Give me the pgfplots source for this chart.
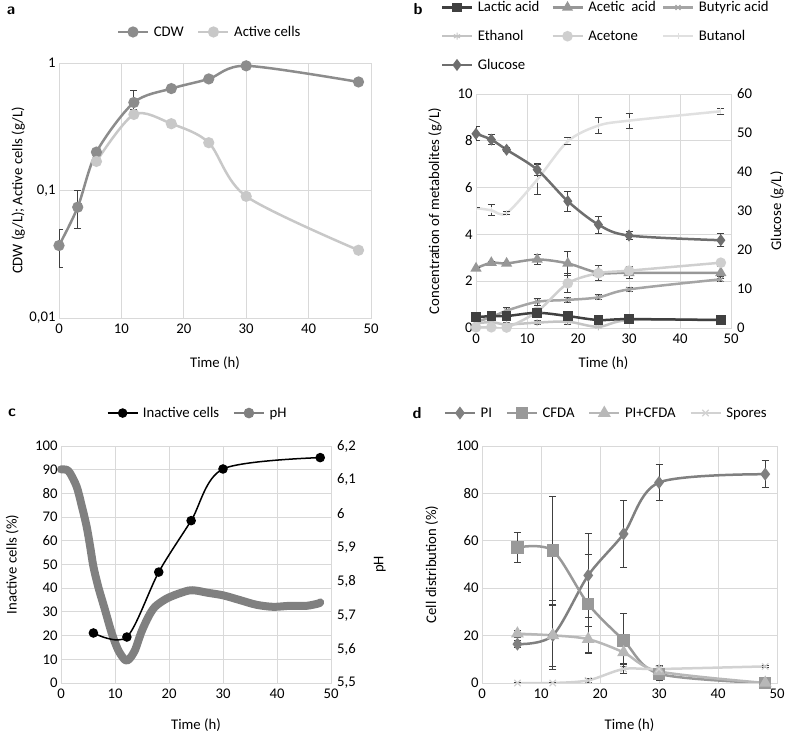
\documentclass[border=0pt]{standalone}
\usepackage{fontspec}
\setmainfont{Carlito}
\usepackage{pgfplots}
\pgfplotsset{compat=1.18}
\usetikzlibrary{plotmarks}
\definecolor{gridc}{HTML}{D9D9D9}
\definecolor{ebc}{HTML}{404040}
\definecolor{cdw}{HTML}{8C8C8C}
\definecolor{act}{HTML}{C8C8C8}
\definecolor{lac}{HTML}{404040}
\definecolor{ace}{HTML}{979797}
\definecolor{but}{HTML}{A5A5A5}
\definecolor{eth}{HTML}{C4C4C4}
\definecolor{acn}{HTML}{CFCFCF}
\definecolor{bol}{HTML}{E0E0E0}
\definecolor{glu}{HTML}{6E6E6E}
\definecolor{phc}{HTML}{808080}
\definecolor{pic}{HTML}{808080}
\definecolor{cfc}{HTML}{999999}
\definecolor{ppc}{HTML}{B8B8B8}
\definecolor{spc}{HTML}{D2D2D2}
\newcommand\fs{\fontsize{14.8}{17.5}\selectfont}
\pgfplotsset{
  base/.style={scale only axis, set layers, xmin=0, xmax=50, xtick={0,10,...,50},
    grid=major, grid style={draw=gridc, line width=0.9bp},
    axis line style={draw=gridc, line width=0.9bp},
    major tick length=0pt, minor tick length=0pt,
    tick label style={font=\fs, text=black},
    xticklabel style={yshift=-4bp, inner sep=2bp},
    label style={font=\fs},
    /pgf/number format/assume math mode=true,
    legend style={font=\fs, draw=none, fill=none, inner sep=0pt, nodes={inner sep=1.5bp},
      /tikz/every odd column/.append style={column sep=3bp},
      /tikz/every even column/.append style={column sep=12bp}},
    legend image code/.code={\draw[mark repeat=2,mark phase=2] plot coordinates {(0bp,0bp)(15bp,0bp)(30bp,0bp)};},
  },
  rightax/.style={base, axis y line*=right, axis x line=none, grid=none,
    yticklabel style={inner sep=1bp, xshift=5bp}},
  eb/.style={error bars/.cd, y dir=both, y explicit,
    error bar style={draw=ebc, line width=1bp, solid},
    error mark options={draw=ebc, line width=1bp, rotate=90, mark size=3.5bp}},
}
\begin{document}
\begin{tikzpicture}[x=1bp,y=1bp]
\node[font=\sffamily\bfseries\fontsize{16}{18}\selectfont] at (11,724) {a};
\node[font=\sffamily\bfseries\fontsize{16}{18}\selectfont] at (418,726) {b};
\node[font=\sffamily\bfseries\fontsize{16}{18}\selectfont] at (12,322) {c};
\node[font=\sffamily\bfseries\fontsize{16}{18}\selectfont] at (417,322) {d};

% ---------------- panel a
\begin{axis}[base, at={(59bp,417bp)}, anchor=south west, width=312bp, height=255bp,
  ymode=log, ymin=0.01, ymax=1, ytick={0.01,0.1,1}, yticklabels={{0,01},{0,1},{1}},
  xlabel={Time (h)}, ylabel={CDW (g/L); Active cells (g/L)},
  xlabel style={at={(axis description cs:0.5,-0.176)}, anchor=center},
  ylabel style={at={(axis description cs:-0.131,0.5)}, anchor=center},
  legend columns=2,
  legend style={at={(axis description cs:0.482,1.1216)}, anchor=center}]
\addplot[cdw, line width=2.5bp, smooth, mark=*, mark size=4.3bp, mark options={fill=cdw, draw=cdw}, eb]
 coordinates {(0,0.037) += (0,0.012) -= (0,0.012)
  (3,0.074) += (0,0.026) -= (0,0.024)
  (6,0.2) +- (0,0.01)
  (12,0.49) += (0,0.12) -= (0,0.06)
  (18,0.63) +- (0,0.02)
  (24,0.75) +- (0,0.03)
  (30,0.95) +- (0,0.02)
  (48,0.71) +- (0,0.02)};
\addlegendentry{CDW}
\addplot[act, line width=2.5bp, smooth, mark=*, mark size=4.3bp, mark options={fill=act, draw=act}]
 coordinates {(6,0.169)(12,0.395)(18,0.334)(24,0.237)(30,0.09)(48,0.034)};
\addlegendentry{Active cells}
\end{axis}

% ---------------- panel b
\begin{axis}[base, at={(476bp,407bp)}, anchor=south west, width=255bp, height=234bp,
  ymin=0, ymax=10, ytick={0,2,...,10},
  xlabel={Time (h)}, ylabel={Concentration of metabolites (g/L)},
  xlabel style={at={(axis description cs:0.5,-0.15)}, anchor=center},
  ylabel style={at={(axis description cs:-0.161,0.5)}, anchor=center}]
\addplot[ace, line width=2.5bp, smooth, mark=triangle*, mark size=4bp, mark options={fill=ace, draw=ace}, eb]
 coordinates {(0,2.55) +- (0,0.05) (3,2.79) +- (0,0.05) (6,2.76) +- (0,0.05) (12,2.93) +- (0,0.21)
  (18,2.76) +- (0,0.5) (24,2.36) +- (0,0.32) (30,2.36) +- (0,0.25) (48,2.36) +- (0,0.25)};
\addplot[but, line width=2.5bp, smooth, mark=x, mark size=3.5bp, mark options={draw=but, line width=1.2bp}, eb]
 coordinates {(0,0.27) +- (0,0.1) (3,0.46) +- (0,0.1) (6,0.74) +- (0,0.12) (12,1.12) +- (0,0.15)
  (18,1.2) +- (0,0.1) (24,1.31) +- (0,0.1) (30,1.65) +- (0,0.1) (48,2.08) +- (0,0.1)};
\addplot[eth, line width=2.5bp, smooth, mark=asterisk, mark size=3.5bp, mark options={draw=eth, line width=1bp}, eb]
 coordinates {(0,0.2) +- (0,0.08) (3,0.25) +- (0,0.08) (6,0.15) +- (0,0.08) (12,0.23) +- (0,0.1)
  (18,0.27) +- (0,0.1) (24,0.05) +- (0,0.08) (30,0.34) +- (0,0.08) (48,0.34) +- (0,0.08)};
\addplot[acn, line width=2.5bp, smooth, mark=*, mark size=4bp, mark options={fill=acn, draw=acn}, eb]
 coordinates {(0,0.03) +- (0,0.02) (3,0.03) +- (0,0.02) (6,0.02) +- (0,0.02) (12,0.7) +- (0,0.1)
  (18,1.91) +- (0,0.4) (24,2.34) +- (0,0.1) (30,2.45) +- (0,0.15) (48,2.79) +- (0,0.05)};
\addplot[bol, line width=2.5bp, smooth, mark=|, mark size=3bp, mark options={draw=bol, line width=1bp}, eb]
 coordinates {(0,5.13) +- (0,0) (3,5.03) +- (0,0.23) (6,4.91) +- (0,0.05) (12,6.34) +- (0,0.65)
  (18,7.98) +- (0,0.16) (24,8.65) +- (0,0.36) (30,8.86) +- (0,0.32) (48,9.26) +- (0,0.14)};
\addplot[lac, line width=2.5bp, smooth, mark=square*, mark size=3.5bp, mark options={fill=lac, draw=lac}, eb]
 coordinates {(0,0.46) +- (0,0.08) (3,0.51) +- (0,0.08) (6,0.51) +- (0,0.08) (12,0.65) +- (0,0.08)
  (18,0.51) +- (0,0.08) (24,0.34) +- (0,0.08) (30,0.38) +- (0,0.08) (48,0.34) +- (0,0.08)};
\end{axis}
\begin{axis}[rightax, at={(476bp,407bp)}, anchor=south west, width=255bp, height=234bp,
  ymin=0, ymax=60, ytick={0,10,...,60},
  ylabel={Glucose (g/L)},
  ylabel style={at={(axis description cs:1.18,0.5)}, anchor=center},
  legend columns=3,
  legend style={at={(axis description cs:-0.139,1.402)}, anchor=north west, row sep=14bp,
    /tikz/every even column/.append style={column sep=0bp}}]
\addlegendimage{lac, line width=2.5bp, mark=square*, mark size=3.5bp, mark options={fill=lac, draw=lac}}
\addlegendentry{\makebox[72bp][l]{Lactic acid}}
\addlegendimage{ace, line width=2.5bp, mark=triangle*, mark size=4bp, mark options={fill=ace, draw=ace}}
\addlegendentry{\makebox[72bp][l]{Acetic\ \ acid}}
\addlegendimage{but, line width=2.5bp, mark=x, mark size=3.5bp, mark options={draw=but, line width=1.2bp}}
\addlegendentry{\makebox[72bp][l]{Butyric acid}}
\addlegendimage{eth, line width=2.5bp, mark=asterisk, mark size=3.5bp, mark options={draw=eth, line width=1bp}}
\addlegendentry{\makebox[72bp][l]{Ethanol}}
\addlegendimage{acn, line width=2.5bp, mark=*, mark size=4bp, mark options={fill=acn, draw=acn}}
\addlegendentry{\makebox[72bp][l]{Acetone}}
\addlegendimage{bol, line width=2.5bp, mark=|, mark size=3bp, mark options={draw=bol, line width=1bp}}
\addlegendentry{\makebox[72bp][l]{Butanol}}
\addplot[glu, line width=2.5bp, smooth, mark=diamond*, mark size=4bp, mark options={fill=glu, draw=glu}, eb]
 coordinates {(0,49.8) +- (0,1.8) (3,48.3) +- (0,1.2) (6,45.7) +- (0,0.5) (12,40.6) +- (0,1.5)
  (18,32.5) +- (0,2.6) (24,26.5) +- (0,2.2) (30,23.7) +- (0,1.1) (48,22.5) +- (0,1.6)};
\addlegendentry{\makebox[72bp][l]{Glucose}}
\end{axis}

% ---------------- panel c
\begin{axis}[base, at={(61bp,52bp)}, anchor=south west, width=270bp, height=237bp,
  ymin=0, ymax=100, ytick={0,10,...,100},
  xlabel={Time (h)}, ylabel={Inactive cells (\%)},
  xlabel style={at={(axis description cs:0.5,-0.177)}, anchor=center},
  ylabel style={at={(axis description cs:-0.181,0.5)}, anchor=center}]
\addplot[black, line width=1.5bp, smooth, mark=*, mark size=4bp, mark options={fill=black, draw=black}]
 coordinates {(6,21.1)(12.2,19.4)(18.1,46.8)(24.1,68.5)(30,90.3)(48,95.1)};
\end{axis}
\begin{axis}[rightax, at={(61bp,52bp)}, anchor=south west, width=270bp, height=237bp,
  ymin=5.5, ymax=6.2, ytick={5.5,5.6,...,6.21},
  yticklabel style={/pgf/number format/.cd, fixed, precision=1, use comma},
  ylabel={pH},
  ylabel style={at={(axis description cs:1.181,0.5)}, anchor=center},
  legend columns=2,
  legend style={at={(axis description cs:0.5056,1.139)}, anchor=center}]
\addlegendimage{black, line width=1.5bp, mark=*, mark size=4bp, mark options={fill=black, draw=black}}
\addlegendentry{Inactive cells}
\addlegendimage{phc, line width=2.5bp, mark=*, mark size=4bp, mark options={fill=phc, draw=phc}}
\addlegendentry{pH}
\addplot[on layer=pre main, phc, line width=8bp, line cap=round, line join=round, smooth, forget plot]
 coordinates {(0,6.131)(1,6.130)(1.67,6.120)(2.9,6.080)(3.8,6.026)(4.75,5.962)(5.4,5.903)(6.0,5.844)
 (6.9,5.784)(8.15,5.716)(9.4,5.647)(10.6,5.597)(11.85,5.568)(12.6,5.570)(13.7,5.597)(14.9,5.651)
 (16.2,5.696)(17.4,5.725)(19.3,5.747)(21.1,5.760)(23.6,5.773)(25,5.773)(27,5.767)(30,5.759)
 (33.1,5.745)(36.2,5.731)(39.3,5.725)(42.4,5.728)(45.5,5.728)(47.7,5.735)(48,5.738)};
\end{axis}

% ---------------- panel d
\begin{axis}[base, at={(482bp,52bp)}, anchor=south west, width=295bp, height=237bp,
  ymin=0, ymax=100, ytick={0,20,...,100},
  xlabel={Time (h)}, ylabel={Cell distribution (\%)},
  xlabel style={at={(axis description cs:0.5,-0.177)}, anchor=center},
  ylabel style={at={(axis description cs:-0.17,0.5)}, anchor=center},
  legend columns=4,
  legend style={at={(axis description cs:0.42,1.139)}, anchor=center}]
\addplot[pic, line width=2.5bp, smooth, mark=diamond*, mark size=4.5bp, mark options={fill=pic, draw=pic}, eb]
 coordinates {(6,16.4) +- (0,1.5) (12,20.1) +- (0,14.5) (18,45.4) +- (0,17.8) (24,62.9) +- (0,14.2)
  (30,84.6) +- (0,7.7) (48,88.1) +- (0,5.7)};
\addlegendentry{PI}
\addplot[cfc, line width=2.5bp, smooth, mark=square*, mark size=5bp, mark options={fill=cfc, draw=cfc}, eb]
 coordinates {(6,57.2) +- (0,6.4) (12,55.8) +- (0,22.9) (18,33.3) +- (0,20.8) (24,18) +- (0,11.2)
  (30,3.9) +- (0,3) (48,0) +- (0,0.5)};
\addlegendentry{CFDA}
\addplot[ppc, line width=2.5bp, smooth, mark=triangle*, mark size=5bp, mark options={fill=ppc, draw=ppc}, eb]
 coordinates {(6,20.8) +- (0,1.5) (12,20.1) +- (0,13) (18,18.5) +- (0,5.5) (24,12.9) +- (0,4.5)
  (30,4.9) +- (0,2.5) (48,0) +- (0,0.3)};
\addlegendentry{PI+CFDA}
\addplot[spc, line width=2.5bp, smooth, mark=x, mark size=4.5bp, mark options={draw=spc, line width=1.2bp}, eb]
 coordinates {(6,0) +- (0,0) (12,0) +- (0,0) (18,1.1) +- (0,1) (24,5.9) +- (0,2) (30,5.9) +- (0,1.5) (48,7) +- (0,0.5)};
\addlegendentry{Spores}
\end{axis}
\pgfresetboundingbox
\useasboundingbox (0,0) rectangle (785,735);
\end{tikzpicture}
\end{document}
